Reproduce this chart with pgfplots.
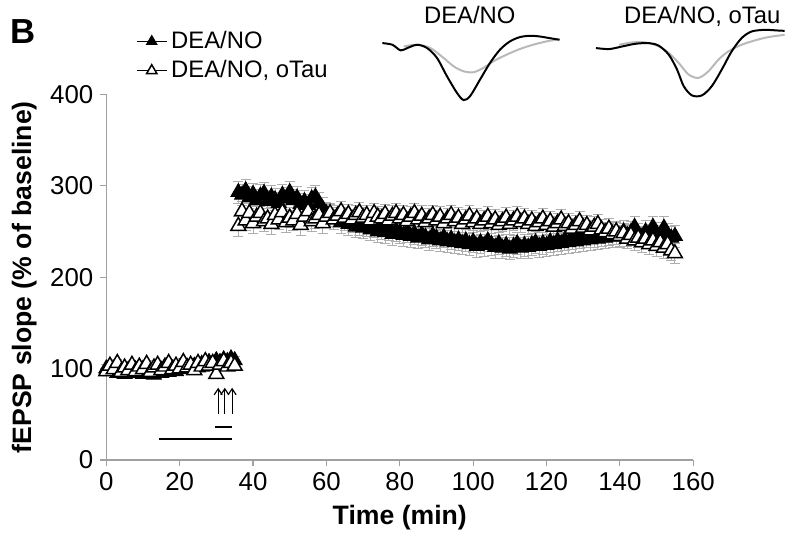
\documentclass[border=0pt]{standalone}
\usepackage{pgfplots}
\pgfplotsset{compat=1.18}
\usepackage{pgfplotstable}
\usepackage{fontspec}
\setmainfont{Liberation Sans}
\usetikzlibrary{arrows.meta}

% baseline, DEA/NO (filled)
\pgfplotstableread{
x y
0 100
1 97
2 99
3 95
4 98
5 94
6 97
7 95
8 99
9 96
10 94
11 98
12 95
13 93
14 97
15 95
16 99
17 96
18 100
19 97
20 101
21 99
22 102
23 100
24 103
25 101
26 105
27 103
28 107
29 104
30 109
31 107
32 110
33 108
34 111
35 109
}\baseA
% baseline, DEA/NO + oTau (open)
\pgfplotstableread{
x y
0 97
1 103
2 99
3 106
4 96
5 101
6 98
7 104
8 97
9 102
10 99
11 105
12 96
13 101
14 104
15 98
16 102
17 106
18 99
19 103
20 100
21 107
22 101
23 104
24 98
25 106
26 102
27 108
28 103
29 106
30 94
31 104
32 108
33 102
34 106
35 103
}\baseB
% after DEA/NO, filled
\pgfplotstableread{
x y
36 293
37 290
38 295
39 287
40 291
41 284
42 289
43 292
44 283
45 288
46 285
47 281
48 290
49 286
50 293
51 284
52 287
53 280
54 283
55 279
56 286
57 288
58 281
59 275
60 270
61 268
62 264
63 266
64 260
65 263
66 258
67 261
68 255
69 258
70 254
71 257
72 252
73 255
74 250
75 253
76 249
77 252
78 247
79 251
80 249
81 246
82 250
83 245
84 248
85 243
86 247
87 244
88 241
89 246
90 243
91 240
92 244
93 239
94 242
95 238
96 241
97 237
98 240
99 236
100 239
101 234
102 238
103 235
104 240
105 236
106 233
107 237
108 232
109 235
110 231
111 234
112 237
113 232
114 235
115 233
116 236
117 238
118 234
119 237
120 235
121 239
122 236
123 240
124 237
125 241
126 238
127 242
128 239
129 243
130 240
131 244
132 241
133 245
134 242
135 246
136 243
137 247
138 244
139 248
140 245
141 250
142 246
143 249
144 255
145 247
146 244
147 250
148 246
149 255
150 248
151 245
152 254
153 247
154 243
155 245
}\postA
% after DEA/NO + oTau, open
\pgfplotstableread{
x y
36 256
37 272
38 262
39 270
40 259
41 266
42 270
43 261
44 264
45 258
46 268
47 263
48 271
49 260
50 265
51 262
52 269
53 257
54 266
55 272
56 261
57 264
58 268
59 259
60 266
61 270
62 263
63 267
64 272
65 265
66 269
67 263
68 268
69 271
70 265
71 268
72 262
73 270
74 266
75 264
76 269
77 262
78 267
79 270
80 264
81 268
82 261
83 266
84 270
85 263
86 267
87 260
88 264
89 268
90 262
91 266
92 259
93 264
94 268
95 261
96 265
97 258
98 263
99 267
100 260
101 264
102 258
103 262
104 266
105 259
106 263
107 257
108 261
109 265
110 258
111 262
112 266
113 260
114 264
115 258
116 262
117 256
118 260
119 264
120 257
121 261
122 255
123 259
124 263
125 256
126 259
127 253
128 257
129 261
130 254
131 257
132 251
133 255
134 258
135 252
136 249
137 253
138 247
139 250
140 245
141 248
142 242
143 246
144 240
145 243
146 238
147 242
148 236
149 240
150 234
151 238
152 232
153 236
154 229
155 226
}\postB

% fEPSP traces (inset, arbitrary units, y downwards)
\pgfplotstableread{
x y
45 40
75 45
100 62
120 55
150 45
180 55
210 85
240 140
270 190
290 212
310 200
340 150
370 100
400 60
430 35
460 22
490 18
520 20
550 25
580 30
}\trAblack
\pgfplotstableread{
x y
110 50
150 45
190 55
230 85
260 110
290 125
320 128
350 115
380 95
420 75
460 58
500 45
540 35
580 28
}\trAgray
\pgfplotstableread{
x y
690 55
730 58
770 50
810 42
850 40
880 48
910 75
935 120
955 170
980 198
1010 198
1040 170
1070 120
1100 65
1130 25
1160 5
1200 0
1240 2
1260 3
}\trBblack
\pgfplotstableread{
x y
760 45
800 38
840 38
880 50
910 70
940 100
970 135
1000 145
1030 125
1060 90
1090 65
1130 45
1170 32
1210 22
1260 15
}\trBgray

\definecolor{axgray}{RGB}{160,160,160}
\definecolor{errgray}{RGB}{175,175,175}
\definecolor{trgray}{RGB}{185,185,185}

\begin{document}
\begin{tikzpicture}
\begin{axis}[
    scale only axis,
    width=295.5pt, height=184pt,
    at={(0,0)}, anchor=south west,
    xmin=0, xmax=160, ymin=0, ymax=400,
    axis lines*=left,
    axis line style={axgray, line width=0.6pt},
    tick style={axgray, line width=0.6pt},
    tick align=outside,
    major tick length=3pt,
    xtick={0,20,...,160},
    ytick={0,100,...,400},
    /pgf/number format/assume math mode=true,
    tick label style={font=\fontsize{13}{15}\selectfont},
    xlabel={\bfseries Time (min)},
    ylabel={\bfseries fEPSP slope (\% of baseline)},
    label style={font=\fontsize{13.4}{15}\selectfont},
    clip=false,
    legend cell align=left,
    legend style={at={(rel axis cs:0.047,1.19)}, anchor=north west,
        draw=none, fill=none, font=\fontsize{12}{14}\selectfont,
        row sep=0.5pt, inner sep=1pt},
    legend image code/.code={
        \draw[black, line width=0.6pt, mark=none] (0pt,0pt) -- (15pt,0pt);
        \draw[mark size=3pt] plot coordinates {(7.5pt,0pt)};
    },
    error bars/error bar style={errgray, line width=0.45pt},
    error bars/error mark options={rotate=90, mark size=2.5pt, errgray, line width=0.45pt},
]
% filled series
\addplot[only marks, mark=triangle*, mark size=4.3pt,
    mark options={fill=black, draw=black, line width=0.5pt},
    error bars/.cd, y dir=both, y fixed=4]
    table[x=x, y=y] {\baseA};
\addlegendentry{DEA/NO}
\addplot[forget plot, only marks, mark=triangle*, mark size=4.3pt,
    mark options={fill=black, draw=black, line width=0.5pt},
    error bars/.cd, y dir=both, y fixed=12]
    table[x=x, y=y] {\postA};
% open series
\addplot[only marks, mark=triangle*, mark size=4.3pt,
    mark options={fill=white, draw=black, line width=0.75pt},
    error bars/.cd, y dir=both, y fixed=4]
    table[x=x, y=y] {\baseB};
\addlegendentry{DEA/NO, oTau}
\addplot[forget plot, only marks, mark=triangle*, mark size=4.3pt,
    mark options={fill=white, draw=black, line width=0.75pt},
    error bars/.cd, y dir=both, y fixed=11]
    table[x=x, y=y] {\postB};

% stimulation arrows and bars
\draw[black, line width=0.6pt, -{Straight Barb[length=3pt,width=4pt]}]
    (axis cs:30.5,50) -- (axis cs:30.5,79);
\draw[black, line width=0.6pt, -{Straight Barb[length=3pt,width=4pt]}]
    (axis cs:32.3,50) -- (axis cs:32.3,79);
\draw[black, line width=0.6pt, -{Straight Barb[length=3pt,width=4pt]}]
    (axis cs:34.3,50) -- (axis cs:34.3,79);
\draw[black, line width=1.3pt] (axis cs:29.5,36) -- (axis cs:34.4,36);
\draw[black, line width=1.3pt] (axis cs:14.5,23) -- (axis cs:34.4,23);
\end{axis}

% inset traces
\begin{axis}[
    scale only axis,
    width=210pt, height=40pt,
    at={(131.5pt,176.5pt)}, anchor=south west,
    xmin=0, xmax=1260, ymin=0, ymax=240,
    y dir=reverse,
    hide axis, clip=false,
]
\addplot[trgray, line width=1pt, smooth, no marks] table[x=x, y=y] {\trAgray};
\addplot[black, line width=1pt, smooth, no marks] table[x=x, y=y] {\trAblack};
\addplot[trgray, line width=1pt, smooth, no marks] table[x=x, y=y] {\trBgray};
\addplot[black, line width=1pt, smooth, no marks] table[x=x, y=y] {\trBblack};
\end{axis}

\node[font=\fontsize{12}{14}\selectfont, anchor=base] at (183pt,219.5pt) {DEA/NO};
\node[font=\fontsize{12}{14}\selectfont, anchor=base] at (300pt,219.5pt) {DEA/NO, oTau};
\node[font=\fontsize{17.5}{20}\selectfont\bfseries] at (-42pt,215.5pt) {B};

\path[use as bounding box] (-53.5pt,-39.5pt) rectangle (340pt,231.5pt);
\end{tikzpicture}
\end{document}
